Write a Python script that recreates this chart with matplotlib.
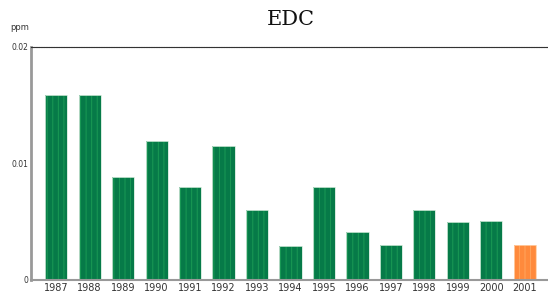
import matplotlib.pyplot as plt
import numpy as np

years = ["1987", "1988", "1989", "1990", "1991", "1992", "1993", "1994",
         "1995", "1996", "1997", "1998", "1999", "2000", "2001"]
values = [0.0159, 0.0159, 0.0088, 0.0119, 0.0080, 0.0115, 0.0060, 0.0029,
          0.0080, 0.0041, 0.0030, 0.0060, 0.0050, 0.0051, 0.0030]
yticks = [0, 0.01, 0.02]
ytick_labels = ["0", "0.01", "0.02"]

colors = ["#067a48"] * (len(years) - 1) + ["#ff8a3c"]
hatch_colors = ["#1a9a55"] * (len(years) - 1) + ["#ffa55e"]

fig = plt.figure(figsize=(5.48, 2.93), dpi=100)
ax = fig.add_axes([0.0566, 0.0444, 0.9434, 0.7952])

x = np.arange(len(years))
plt.rcParams['hatch.linewidth'] = 0.7
for xi, v, c, hc in zip(x, values, colors, hatch_colors):
    ax.bar(xi, v, width=0.66, color=c, edgecolor=hc, hatch="|||", linewidth=0)
    ax.bar(xi, v, width=0.66, fill=False, edgecolor="#cfe8d8" if c != "#ff8a3c" else "#ffd0a8",
           linewidth=0.6)

ax.set_xlim(-0.75, 14.69)
ax.set_ylim(0, 0.02)
ax.set_xticks(x)
ax.set_xticklabels(years, fontsize=7, color="#333333")
ax.set_yticks(yticks)
ax.set_yticklabels(ytick_labels, fontsize=5.5, color="#333333")
ax.tick_params(axis="both", length=0, pad=2)

ax.spines["right"].set_visible(False)
ax.spines["left"].set_color("#999999")
ax.spines["left"].set_linewidth(2)
ax.spines["bottom"].set_color("#999999")
ax.spines["bottom"].set_linewidth(1.5)
ax.spines["top"].set_color("#333333")
ax.spines["top"].set_linewidth(0.8)
ax.spines["top"].set_linestyle((0, (1, 0.5)))

fig.text(0.53, 0.935, "EDC", ha="center", va="center", fontsize=15,
         family="DejaVu Serif", color="#111111")
fig.text(0.018, 0.905, "ppm", ha="left", va="center", fontsize=6, color="#333333")

fig.savefig("out.png", dpi=100)
